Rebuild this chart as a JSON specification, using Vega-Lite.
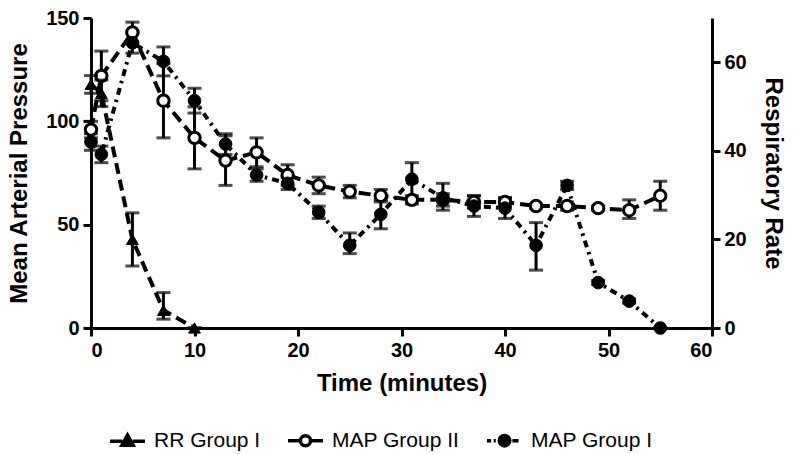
{
  "$schema": "https://vega.github.io/schema/vega-lite/v6.json",
  "width": 621,
  "height": 310,
  "autosize": {"type": "none"},
  "padding": {"left": 91, "top": 18, "right": 88, "bottom": 126},
  "background": "white",
  "config": {
    "view": {"stroke": null},
    "font": "Liberation Sans",
    "axis": {
      "labelFont": "Liberation Sans", "labelFontWeight": "bold", "labelFontSize": 20, "labelColor": "black",
      "titleFont": "Liberation Sans", "titleFontWeight": "bold", "titleFontSize": 24, "titleColor": "black",
      "domainColor": "black", "domainWidth": 3, "tickColor": "black", "tickWidth": 3, "tickSize": 8, "grid": false
    }
  },
  "data": {"values": [
    {"s": "MAP Group II", "t": 0, "v": 96, "lo": 92, "hi": 100},
    {"s": "MAP Group II", "t": 1, "v": 122, "lo": 110, "hi": 134},
    {"s": "MAP Group II", "t": 4, "v": 143, "lo": 138, "hi": 148},
    {"s": "MAP Group II", "t": 7, "v": 110, "lo": 92, "hi": 128},
    {"s": "MAP Group II", "t": 10, "v": 92, "lo": 77, "hi": 107},
    {"s": "MAP Group II", "t": 13, "v": 81, "lo": 69, "hi": 93},
    {"s": "MAP Group II", "t": 16, "v": 85, "lo": 78, "hi": 92},
    {"s": "MAP Group II", "t": 19, "v": 74, "lo": 69, "hi": 79},
    {"s": "MAP Group II", "t": 22, "v": 69, "lo": 65, "hi": 73},
    {"s": "MAP Group II", "t": 25, "v": 66, "lo": 63, "hi": 69},
    {"s": "MAP Group II", "t": 28, "v": 64, "lo": 61, "hi": 67},
    {"s": "MAP Group II", "t": 31, "v": 62, "lo": 60, "hi": 64},
    {"s": "MAP Group II", "t": 34, "v": 62, "lo": 59, "hi": 65},
    {"s": "MAP Group II", "t": 37, "v": 61, "lo": 58, "hi": 64},
    {"s": "MAP Group II", "t": 40, "v": 61, "lo": 59, "hi": 63},
    {"s": "MAP Group II", "t": 43, "v": 59, "lo": 58, "hi": 60},
    {"s": "MAP Group II", "t": 46, "v": 59, "lo": 57, "hi": 61},
    {"s": "MAP Group II", "t": 49, "v": 58, "lo": 57, "hi": 59},
    {"s": "MAP Group II", "t": 52, "v": 57, "lo": 53, "hi": 62},
    {"s": "MAP Group II", "t": 55, "v": 64, "lo": 57, "hi": 71},
    {"s": "MAP Group I", "t": 0, "v": 90, "lo": 86, "hi": 94},
    {"s": "MAP Group I", "t": 1, "v": 84, "lo": 80, "hi": 88},
    {"s": "MAP Group I", "t": 4, "v": 138, "lo": 133, "hi": 143},
    {"s": "MAP Group I", "t": 7, "v": 129, "lo": 122, "hi": 136},
    {"s": "MAP Group I", "t": 10, "v": 110, "lo": 104, "hi": 116},
    {"s": "MAP Group I", "t": 13, "v": 89, "lo": 84, "hi": 94},
    {"s": "MAP Group I", "t": 16, "v": 74, "lo": 71, "hi": 77},
    {"s": "MAP Group I", "t": 19, "v": 70, "lo": 67, "hi": 73},
    {"s": "MAP Group I", "t": 22, "v": 56, "lo": 53, "hi": 59},
    {"s": "MAP Group I", "t": 25, "v": 40, "lo": 36, "hi": 46},
    {"s": "MAP Group I", "t": 28, "v": 55, "lo": 48, "hi": 62},
    {"s": "MAP Group I", "t": 31, "v": 72, "lo": 63, "hi": 80},
    {"s": "MAP Group I", "t": 34, "v": 63, "lo": 57, "hi": 70},
    {"s": "MAP Group I", "t": 37, "v": 59, "lo": 54, "hi": 64},
    {"s": "MAP Group I", "t": 40, "v": 58, "lo": 53, "hi": 63},
    {"s": "MAP Group I", "t": 43, "v": 40, "lo": 28, "hi": 51},
    {"s": "MAP Group I", "t": 46, "v": 69, "lo": 67, "hi": 71},
    {"s": "MAP Group I", "t": 49, "v": 22, "lo": 21, "hi": 23},
    {"s": "MAP Group I", "t": 52, "v": 13, "lo": 12, "hi": 14},
    {"s": "MAP Group I", "t": 55, "v": 0, "lo": 0, "hi": 0},
    {"s": "RR Group I", "t": 0, "v": 55, "lo": 53, "hi": 57},
    {"s": "RR Group I", "t": 1, "v": 53, "lo": 50, "hi": 56},
    {"s": "RR Group I", "t": 4, "v": 20, "lo": 14, "hi": 26},
    {"s": "RR Group I", "t": 7, "v": 4, "lo": 2, "hi": 8},
    {"s": "RR Group I", "t": 10, "v": 0, "lo": 0, "hi": 0}
  ]},
  "encoding": {
    "x": {"field": "t", "type": "quantitative", "scale": {"domain": [0, 60], "nice": false},
      "axis": {"values": [0, 10, 20, 30, 40, 50, 60], "title": "Time (minutes)", "labelPadding": 4, "titlePadding": 11}}
  },
  "layer": [
    {
      "layer": [
        {"transform": [{"filter": "datum.s === 'MAP Group II'"}],
         "mark": {"type": "line", "stroke": "black", "strokeWidth": 4, "strokeDash": [12, 6]},
         "encoding": {"y": {"field": "v", "type": "quantitative", "title": "Mean Arterial Pressure"}}},
        {"transform": [{"filter": "datum.s === 'MAP Group I'"}],
         "mark": {"type": "line", "stroke": "black", "strokeWidth": 4, "strokeDash": [7, 5, 2.5, 5]},
         "encoding": {"y": {"field": "v", "type": "quantitative", "title": "Mean Arterial Pressure"}}},
        {"transform": [{"filter": "datum.s !== 'RR Group I'"}],
         "mark": {"type": "rule", "stroke": "black", "strokeWidth": 3},
         "encoding": {"y": {"field": "lo", "type": "quantitative", "title": "Mean Arterial Pressure"}, "y2": {"field": "hi"}}},
        {"transform": [{"filter": "datum.s !== 'RR Group I'"}],
         "mark": {"type": "tick", "orient": "horizontal", "color": "black", "size": 14, "thickness": 3},
         "encoding": {"y": {"field": "lo", "type": "quantitative", "title": "Mean Arterial Pressure"}}},
        {"transform": [{"filter": "datum.s !== 'RR Group I'"}],
         "mark": {"type": "tick", "orient": "horizontal", "color": "black", "size": 14, "thickness": 3},
         "encoding": {"y": {"field": "hi", "type": "quantitative", "title": "Mean Arterial Pressure"}}},
        {"transform": [{"filter": "datum.s === 'MAP Group II'"}],
         "mark": {"type": "point", "shape": "circle", "filled": false, "fill": "white", "stroke": "black", "strokeWidth": 3, "size": 130, "opacity": 1},
         "encoding": {"y": {"field": "v", "type": "quantitative", "title": "Mean Arterial Pressure"}}},
        {"transform": [{"filter": "datum.s === 'MAP Group I'"}],
         "mark": {"type": "point", "shape": "circle", "filled": true, "fill": "black", "stroke": "black", "strokeWidth": 1, "size": 160, "opacity": 1},
         "encoding": {"y": {"field": "v", "type": "quantitative", "title": "Mean Arterial Pressure"}}},
        {
          "mark": {"type": "point", "filled": true, "opacity": 0, "strokeWidth": 3},
          "encoding": {
            "y": {"field": "v", "type": "quantitative", "title": "Mean Arterial Pressure"},
            "shape": {"field": "s", "type": "nominal",
              "scale": {"domain": ["RR Group I", "MAP Group II", "MAP Group I"],
                "range": [
                  "M-1,0H-0.3M0.3,0H1M0,-0.36L0.32,0.22L-0.32,0.22Z",
                  "M-1,0H-0.3M0.3,0H1M0.29,0A0.29,0.29,0,1,1,-0.29,0A0.29,0.29,0,1,1,0.29,0Z",
                  "M-1,0H-0.76M-0.62,0H-0.5M0.45,0H0.8M0.3,0A0.3,0.3,0,1,1,-0.3,0A0.3,0.3,0,1,1,0.3,0Z"
                ]},
              "legend": {"orient": "none", "legendX": 17, "legendY": 403, "direction": "horizontal", "title": null,
                "symbolSize": 1225, "symbolStrokeWidth": 3.5, "symbolOpacity": 1,
                "labelFont": "Liberation Sans", "labelFontSize": 21, "labelColor": "black", "columnPadding": 20, "labelOffset": 7}},
            "fill": {"field": "s", "type": "nominal",
              "scale": {"domain": ["RR Group I", "MAP Group II", "MAP Group I"], "range": ["black", "white", "black"]},
              "legend": {"orient": "none", "legendX": 17, "legendY": 403, "direction": "horizontal", "title": null,
                "symbolSize": 1225, "symbolStrokeWidth": 3.5, "symbolOpacity": 1,
                "labelFont": "Liberation Sans", "labelFontSize": 21, "labelColor": "black", "columnPadding": 20, "labelOffset": 7}},
            "stroke": {"field": "s", "type": "nominal",
              "scale": {"domain": ["RR Group I", "MAP Group II", "MAP Group I"], "range": ["black", "black", "black"]},
              "legend": {"orient": "none", "legendX": 17, "legendY": 403, "direction": "horizontal", "title": null,
                "symbolSize": 1225, "symbolStrokeWidth": 3.5, "symbolOpacity": 1,
                "labelFont": "Liberation Sans", "labelFontSize": 21, "labelColor": "black", "columnPadding": 20, "labelOffset": 7}}
          }
        }
      ],
      "encoding": {
        "y": {"field": "v", "type": "quantitative", "title": "Mean Arterial Pressure",
          "scale": {"domain": [0, 150], "nice": false},
          "axis": {"orient": "left", "values": [0, 50, 100, 150], "labelPadding": 4, "titlePadding": 14}}
      }
    },
    {
      "transform": [{"filter": "datum.s === 'RR Group I'"}],
      "layer": [
        {"mark": {"type": "line", "stroke": "black", "strokeWidth": 4, "strokeDash": [11, 6]},
         "encoding": {"y": {"field": "v", "type": "quantitative", "title": "Respiratory Rate"}}},
        {"mark": {"type": "rule", "stroke": "black", "strokeWidth": 3},
         "encoding": {"y": {"field": "lo", "type": "quantitative", "title": "Respiratory Rate"}, "y2": {"field": "hi"}}},
        {"mark": {"type": "tick", "orient": "horizontal", "color": "black", "size": 14, "thickness": 3},
         "encoding": {"y": {"field": "lo", "type": "quantitative", "title": "Respiratory Rate"}}},
        {"mark": {"type": "tick", "orient": "horizontal", "color": "black", "size": 14, "thickness": 3},
         "encoding": {"y": {"field": "hi", "type": "quantitative", "title": "Respiratory Rate"}}},
        {"mark": {"type": "point", "shape": "triangle-up", "filled": true, "fill": "black", "stroke": "black", "strokeWidth": 1, "size": 140, "opacity": 1},
         "encoding": {"y": {"field": "v", "type": "quantitative", "title": "Respiratory Rate"}}}
      ],
      "encoding": {
        "y": {"field": "v", "type": "quantitative", "title": "Respiratory Rate",
          "scale": {"domain": [0, 70], "nice": false},
          "axis": {"orient": "right", "values": [0, 20, 40, 60], "labelPadding": 4, "titlePadding": 14}}
      }
    }
  ],
  "resolve": {"scale": {"y": "independent"}, "axis": {"y": "independent"}}
}
